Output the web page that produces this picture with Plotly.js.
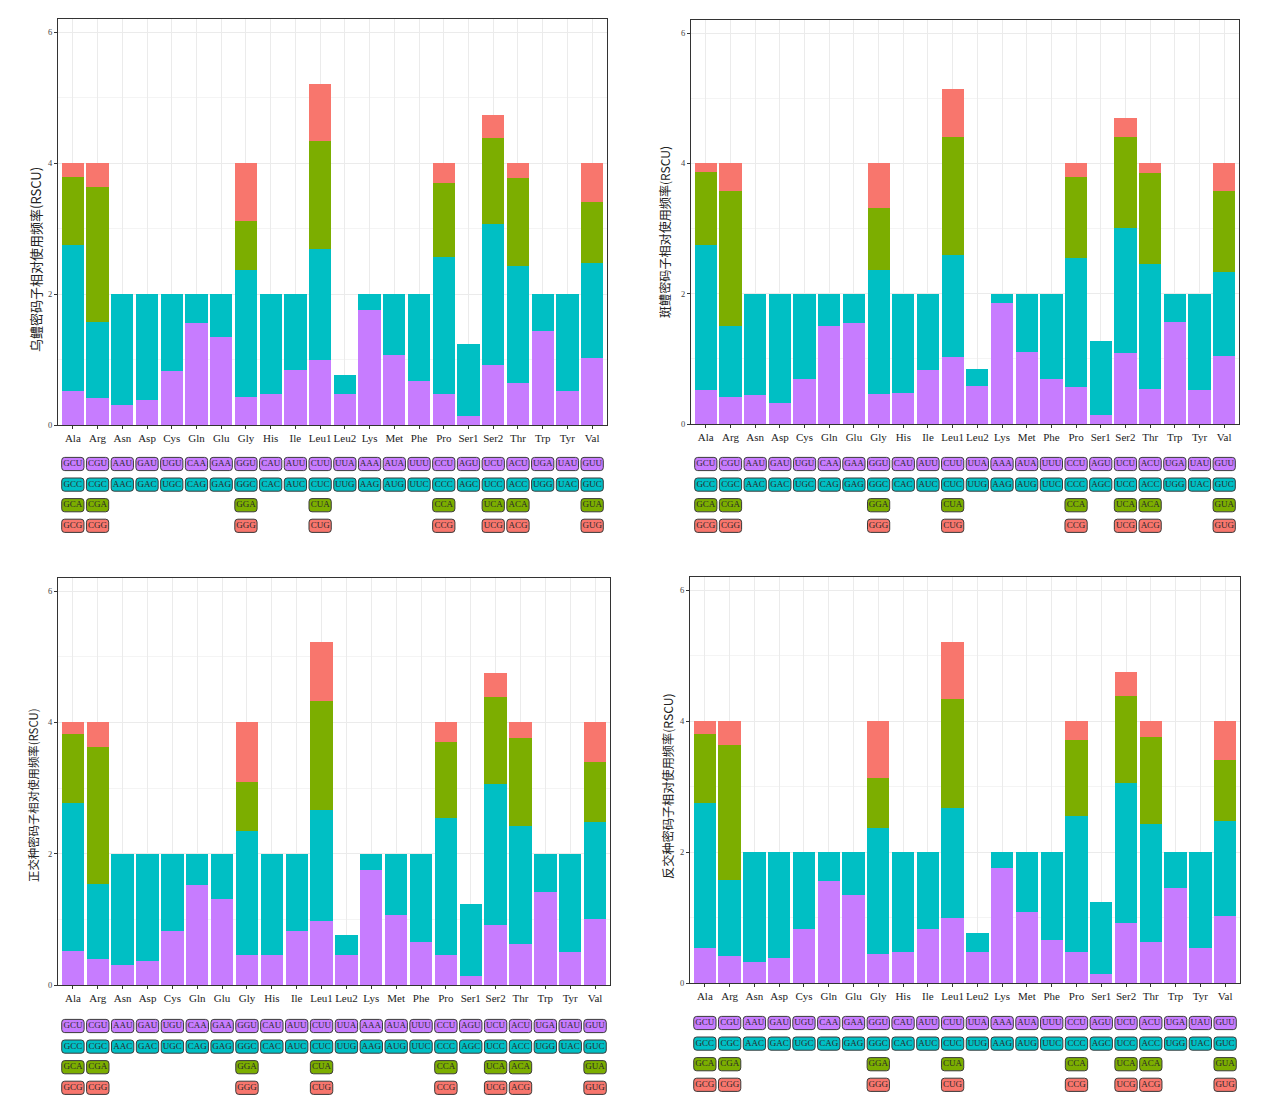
<!DOCTYPE html>
<html>
<head>
<meta charset="utf-8">
<script src="https://cdn.plot.ly/plotly-3.0.1.min.js"></script>
<style>
  html, body { margin: 0; padding: 0; background: #fff; }
  #chart { width: 1268px; height: 1110px; }
</style>
</head>
<body>
<div id="chart"></div>
<script>
// amino acids and their synonymous codons (row 1..4 of the codon table)
const aminoAcids = ["Ala","Arg","Asn","Asp","Cys","Gln","Glu","Gly","His","Ile","Leu1","Leu2","Lys","Met","Phe","Pro","Ser1","Ser2","Thr","Trp","Tyr","Val"];
const codon1 = ["GCU","CGU","AAU","GAU","UGU","CAA","GAA","GGU","CAU","AUU","CUU","UUA","AAA","AUA","UUU","CCU","AGU","UCU","ACU","UGA","UAU","GUU"];
const codon2 = ["GCC","CGC","AAC","GAC","UGC","CAG","GAG","GGC","CAC","AUC","CUC","UUG","AAG","AUG","UUC","CCC","AGC","UCC","ACC","UGG","UAC","GUC"];
const codon3 = ["GCA","CGA","","","","","","GGA","","","CUA","","","","","CCA","","UCA","ACA","","","GUA"];
const codon4 = ["GCG","CGG","","","","","","GGG","","","CUG","","","","","CCG","","UCG","ACG","","","GUG"];

// RSCU, 乌鳢
const wuli1 = [0.52,0.41,0.31,0.38,0.83,1.56,1.34,0.43,0.47,0.84,1.00,0.47,1.76,1.07,0.67,0.47,0.14,0.92,0.64,1.44,0.52,1.02];
const wuli2 = [2.23,1.17,1.69,1.62,1.17,0.44,0.66,1.93,1.53,1.16,1.69,0.30,0.24,0.93,1.33,2.09,1.09,2.15,1.79,0.56,1.48,1.45];
const wuli3 = [1.03,2.05,null,null,null,null,null,0.76,null,null,1.65,null,null,null,null,1.13,null,1.31,1.34,null,null,0.94];
const wuli4 = [0.22,0.37,null,null,null,null,null,0.88,null,null,0.87,null,null,null,null,0.31,null,0.36,0.23,null,null,0.59];

// RSCU, 斑鳢
const banli1 = [0.52,0.42,0.45,0.32,0.69,1.50,1.55,0.46,0.48,0.83,1.03,0.58,1.86,1.10,0.69,0.57,0.14,1.09,0.54,1.56,0.52,1.04];
const banli2 = [2.22,1.08,1.55,1.68,1.31,0.50,0.45,1.91,1.52,1.17,1.56,0.26,0.14,0.90,1.31,1.98,1.14,1.92,1.92,0.44,1.48,1.29];
const banli3 = [1.12,2.07,null,null,null,null,null,0.94,null,null,1.82,null,null,null,null,1.24,null,1.40,1.39,null,null,1.25];
const banli4 = [0.14,0.43,null,null,null,null,null,0.69,null,null,0.73,null,null,null,null,0.21,null,0.29,0.15,null,null,0.42];

// RSCU, 正交种
const zheng1 = [0.52,0.40,0.30,0.37,0.82,1.53,1.31,0.46,0.46,0.82,0.98,0.46,1.75,1.07,0.66,0.45,0.13,0.91,0.63,1.42,0.51,1.01];
const zheng2 = [2.25,1.14,1.70,1.63,1.18,0.47,0.69,1.88,1.54,1.18,1.69,0.30,0.25,0.93,1.34,2.10,1.10,2.15,1.79,0.58,1.49,1.47];
const zheng3 = [1.05,2.09,null,null,null,null,null,0.75,null,null,1.66,null,null,null,null,1.15,null,1.32,1.34,null,null,0.91];
const zheng4 = [0.18,0.37,null,null,null,null,null,0.91,null,null,0.89,null,null,null,null,0.30,null,0.37,0.24,null,null,0.61];

// RSCU, 反交种
const fan1 = [0.53,0.41,0.32,0.38,0.83,1.56,1.34,0.44,0.47,0.83,1.00,0.47,1.76,1.08,0.66,0.47,0.14,0.92,0.63,1.45,0.54,1.02];
const fan2 = [2.22,1.17,1.68,1.62,1.17,0.44,0.66,1.92,1.53,1.17,1.68,0.30,0.24,0.92,1.34,2.08,1.09,2.14,1.80,0.55,1.46,1.45];
const fan3 = [1.05,2.05,null,null,null,null,null,0.77,null,null,1.66,null,null,null,null,1.16,null,1.32,1.33,null,null,0.93];
const fan4 = [0.20,0.37,null,null,null,null,null,0.87,null,null,0.87,null,null,null,null,0.29,null,0.37,0.24,null,null,0.60];

const yTitles = ["乌鳢密码子相对使用频率(RSCU)","斑鳢密码子相对使用频率(RSCU)","正交种密码子相对使用频率(RSCU)","反交种密码子相对使用频率(RSCU)"];
const yTicks = [0, 2, 4, 6];

const COLORS = ["#C77CFF", "#00BFC4", "#7CAE00", "#F8766D"];
const W = 1268, H = 1110;
const SERIF = "Liberation Serif, Times New Roman, serif";

// panel boxes in px (left,right,top,bottom), codon row centre, y title place
const panels = [
  {l: 58,  r: 607,  t: 19,  b: 425, row0: 464,  tx: 35,  ty: 260, ts: 13.0, data: [wuli1, wuli2, wuli3, wuli4]},
  {l: 691, r: 1239, t: 20,  b: 424, row0: 464,  tx: 665, ty: 232, ts: 12.1, data: [banli1, banli2, banli3, banli4]},
  {l: 58,  r: 610,  t: 578, b: 985, row0: 1026, tx: 33,  ty: 795, ts: 11.4, data: [zheng1, zheng2, zheng3, zheng4]},
  {l: 690, r: 1240, t: 577, b: 983, row0: 1023, tx: 668, ty: 786, ts: 12.2, data: [fan1, fan2, fan3, fan4]}
];
const ROW_STEP = 20.6;
const codons = [codon1, codon2, codon3, codon4];
const XR = [-0.6, aminoAcids.length - 0.4];

const fx = px => px / W;
const fy = px => 1 - px / H;

const traces = [], shapes = [], annotations = [];
const layout = {
  width: W, height: H,
  margin: {l: 0, r: 0, t: 0, b: 0},
  paper_bgcolor: "white", plot_bgcolor: "white",
  showlegend: false, barmode: "stack", bargap: 0.1,
  font: {family: SERIF, color: "#222"}
};

panels.forEach((p, k) => {
  const n1 = 2 * k + 1, n2 = 2 * k + 2;
  const xa = n1 === 1 ? "x" : "x" + n1, ya = n1 === 1 ? "y" : "y" + n1;
  const xc = "x" + n2, yc = "y" + n2;

  // stacked RSCU bars
  p.data.forEach((vals, j) => {
    traces.push({
      type: "bar", x: aminoAcids, y: vals, xaxis: xa, yaxis: ya,
      marker: {color: COLORS[j], line: {width: 0}},
      hovertemplate: "%{x}: %{y:.2f}<extra></extra>"
    });
  });

  layout["xaxis" + (n1 === 1 ? "" : n1)] = {
    domain: [fx(p.l), fx(p.r)], anchor: ya, type: "category", range: XR,
    showgrid: true, gridcolor: "#ebebeb", gridwidth: 1,
    showline: true, mirror: true, linecolor: "#333", linewidth: 1,
    ticks: "outside", ticklen: 3, tickcolor: "#333", tickwidth: 1, tickangle: 0,
    tickfont: {family: SERIF, size: 11, color: "#222"}, zeroline: false, fixedrange: true
  };
  layout["yaxis" + (n1 === 1 ? "" : n1)] = {
    domain: [fy(p.b), fy(p.t)], anchor: xa, range: [0, 6.2],
    tickvals: yTicks, showgrid: true, gridcolor: "#ebebeb", gridwidth: 1,
    minor: {dtick: 1, showgrid: true, gridcolor: "#f4f4f4", gridwidth: 1},
    showline: true, mirror: true, linecolor: "#333", linewidth: 1,
    ticks: "outside", ticklen: 3, tickcolor: "#333", tickwidth: 1,
    tickfont: {family: SERIF, size: 8.5, color: "#444"}, zeroline: false, fixedrange: true
  };

  // codon table under the bars
  const cTop = p.row0 - 0.5 * ROW_STEP, cBot = p.row0 + 3.5 * ROW_STEP;
  layout["xaxis" + n2] = {domain: [fx(p.l), fx(p.r)], anchor: yc, range: XR, visible: false, fixedrange: true};
  layout["yaxis" + n2] = {domain: [fy(cBot), fy(cTop)], anchor: xc, range: [3.5, -0.5], visible: false, fixedrange: true};

  const pxPerX = (p.r - p.l) / (XR[1] - XR[0]);
  const hw = 0.45, hh = 6.6 / ROW_STEP;            // half box size in axis units
  const rx = 3 / pxPerX, ry = 3 / ROW_STEP;         // corner radius
  codons.forEach((row, j) => {
    const xs = [], ys = [], txt = [];
    row.forEach((c, i) => {
      if (!c) return;
      xs.push(i); ys.push(j); txt.push(c);
      const x0 = i - hw, x1 = i + hw, y0 = j - hh, y1 = j + hh;
      shapes.push({
        type: "path", xref: xc, yref: yc, layer: "below",
        path: `M${x0 + rx},${y0} H${x1 - rx} Q${x1},${y0} ${x1},${y0 + ry} V${y1 - ry} Q${x1},${y1} ${x1 - rx},${y1} H${x0 + rx} Q${x0},${y1} ${x0},${y1 - ry} V${y0 + ry} Q${x0},${y0} ${x0 + rx},${y0} Z`,
        fillcolor: COLORS[j], line: {color: "#3a3a3a", width: 1}
      });
    });
    traces.push({
      type: "scatter", mode: "text", x: xs, y: ys, text: txt, xaxis: xc, yaxis: yc,
      textfont: {family: SERIF, size: 9, color: "#2a2a2a"}, hoverinfo: "skip"
    });
  });

  annotations.push({
    xref: "paper", yref: "paper", x: fx(p.tx), y: fy(p.ty), text: yTitles[k],
    textangle: -90, showarrow: false, xanchor: "center", yanchor: "middle",
    font: {family: "Noto Sans CJK SC, sans-serif", size: p.ts, color: "#222"}
  });
});

layout.shapes = shapes;
layout.annotations = annotations;

Plotly.newPlot("chart", traces, layout, {displayModeBar: false, staticPlot: true});
</script>
</body>
</html>
